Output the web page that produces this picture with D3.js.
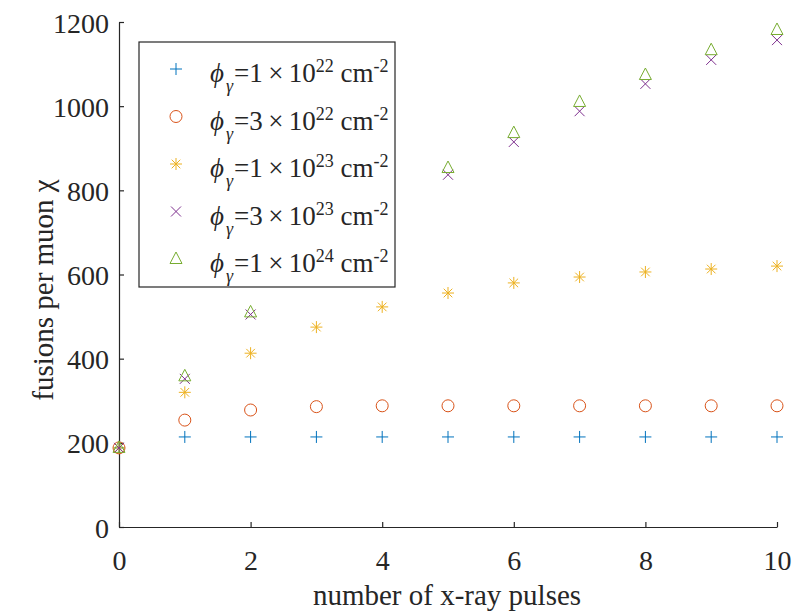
<!DOCTYPE html>
<html>
<head>
<meta charset="utf-8">
<script src="https://cdn.jsdelivr.net/npm/d3@7"></script>
<style>
  body { margin: 0; background: #fff; }
  text { font-family: "Liberation Serif", "Times New Roman", serif; fill: #262626; }
</style>
</head>
<body>
<div id="chart"></div>
<script>
// data
var pulses = [0, 1, 2, 3, 4, 5, 6, 7, 8, 9, 10];
var fluence1e22 = [188, 214, 214, 214, 214, 214, 214, 214, 214, 214, 214];
var fluence3e22 = [188, 254, 278, 286, 288, 288, 288, 288, 288, 288, 288];
var fluence1e23 = [188, 320, 413, 475, 523, 556, 580, 594, 606, 613, 620];
var fluence3e23 = [188, 352, 505, 640, 750, 837, 915, 988, 1053, 1110, 1157];
var fluence1e24 = [188, 358, 510, 650, 760, 853, 936, 1010, 1074, 1133, 1181];
var xTicks = [0, 2, 4, 6, 8, 10];
var yTicks = [0, 200, 400, 600, 800, 1000, 1200];
var seriesNames = ["1", "3", "1", "3", "1"];
var seriesExp = ["22", "22", "23", "23", "24"];

var svgWidth = 796;
var svgHeight = 614;

var margin = { top: 22, right: 19, bottom: 87, left: 119 };
var chartWidth = svgWidth - margin.left - margin.right;
var chartHeight = svgHeight - margin.top - margin.bottom;

var svg = d3.select("#chart")
    .append("svg")
    .attr("width", svgWidth)
    .attr("height", svgHeight);

var chartGroup = svg.append("g")
    .attr("transform", `translate(${margin.left}, ${margin.top})`);

var xScale = d3.scaleLinear().domain([0, 10]).range([0, chartWidth]);
var yScale = d3.scaleLinear().domain([0, 1200]).range([chartHeight, 0]);

// axes, matlab style: ticks pointing inward, no box
var bottomAxis = d3.axisBottom(xScale).tickValues(xTicks).tickFormat(d3.format("d"))
    .tickSizeInner(-5).tickSizeOuter(0);
var leftAxis = d3.axisLeft(yScale).tickValues(yTicks).tickFormat(d3.format("d"))
    .tickSizeInner(-5).tickSizeOuter(0).tickPadding(10);

var xAxis = chartGroup.append("g")
    .attr("transform", `translate(0, ${chartHeight})`)
    .call(bottomAxis);
var yAxis = chartGroup.append("g").call(leftAxis);

[xAxis, yAxis].forEach(function (ax) {
    ax.attr("font-family", null);
    ax.select(".domain").attr("stroke", "#262626").attr("stroke-width", 1.2);
    ax.selectAll(".tick line").attr("stroke", "#262626").attr("stroke-width", 1.2);
    ax.selectAll(".tick text")
        .attr("font-size", 28)
        .attr("fill", "#262626");
});
xAxis.selectAll(".tick text").attr("y", 43).attr("dy", 0);
yAxis.selectAll(".tick text").attr("dy", "0.36em");

// axis titles
svg.append("text")
    .attr("x", margin.left + chartWidth / 2 - 1)
    .attr("y", 605)
    .attr("text-anchor", "middle")
    .attr("font-size", 29)
    .text("number of x-ray pulses");

svg.append("text")
    .attr("transform", "translate(53, 290) rotate(-90)")
    .attr("text-anchor", "middle")
    .attr("font-size", 29)
    .text("fusions per muon \u03C7");

// marker shapes
var markers = [
    { color: "#0072BD", path: "M-6,0H6M0,-6V6" },
    { color: "#D95319", circle: 6 },
    { color: "#EDB120", path: "M-6,0H6M0,-6V6M-4.3,-4.3L4.3,4.3M-4.3,4.3L4.3,-4.3" },
    { color: "#7E2F8E", path: "M-5,-5L5,5M-5,5L5,-5" },
    { color: "#77AC30", path: "M0,-7L6,4.5H-6Z" }
];
var allSeries = [fluence1e22, fluence3e22, fluence1e23, fluence3e23, fluence1e24];

function drawMarker(g, m) {
    if (m.circle) {
        g.append("circle").attr("r", m.circle)
            .attr("fill", "none").attr("stroke", m.color).attr("stroke-width", 1);
    } else {
        g.append("path").attr("d", m.path)
            .attr("fill", "none").attr("stroke", m.color).attr("stroke-width", 1);
    }
}

allSeries.forEach(function (values, i) {
    var grp = chartGroup.append("g");
    grp.selectAll("g")
        .data(pulses)
        .enter()
        .append("g")
        .attr("transform", (d, j) => `translate(${xScale(d)}, ${yScale(values[j])})`)
        .each(function () { drawMarker(d3.select(this), markers[i]); });
});

// legend with white fill on top
var legend = svg.append("g").attr("transform", "translate(139, 42)");
legend.append("rect")
    .attr("width", 256)
    .attr("height", 245)
    .attr("fill", "#fff")
    .attr("stroke", "#262626")
    .attr("stroke-width", 1.2);

markers.forEach(function (m, i) {
    var rowY = 27 + i * 47.5;
    var mg = legend.append("g").attr("transform", `translate(37, ${rowY})`);
    drawMarker(mg, m);

    var t = legend.append("text")
        .attr("x", 71)
        .attr("y", rowY + 13)
        .attr("font-size", 27);
    t.append("tspan").attr("font-style", "italic").text("\u03D5");
    t.append("tspan").attr("font-size", 18).attr("font-style", "italic")
        .attr("dx", 2).attr("dy", 10).text("\u03B3");
    t.append("tspan").attr("dx", 1).attr("dy", -10)
        .text("=" + seriesNames[i] + "\u2009\u00D7\u200910");
    t.append("tspan").attr("font-size", 18).attr("dy", -10).text(seriesExp[i]);
    t.append("tspan").attr("dy", 10).text(" cm");
    t.append("tspan").attr("font-size", 18).attr("dy", -10).text("-2");
});
</script>
</body>
</html>
